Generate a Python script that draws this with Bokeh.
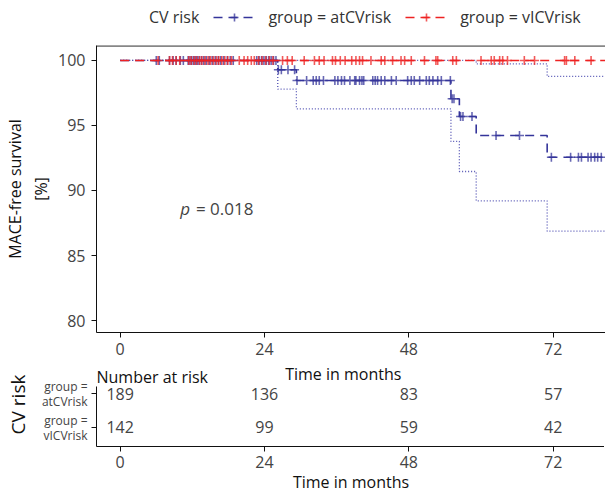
import numpy as np
from bokeh.plotting import figure
from bokeh.models import FixedTicker, Legend, LegendItem, Range1d, Span
from bokeh.layouts import column
from bokeh.core.properties import value
from bokeh.embed import file_html
from bokeh.resources import INLINE

# ---------------- data ----------------
groups = ["group = atCVrisk", "group = vICVrisk"]
legend_title = "CV risk"

# Kaplan-Meier steps, atCVrisk
at_times = [0, 26.2, 29.3, 55.0, 56.4, 59.2, 71.0, 82.0]
at_surv = [100, 99.28, 98.46, 97.05, 95.69, 94.23, 92.56, 92.56]
at_lower = [100, 97.80, 96.28, 93.77, 91.46, 89.20, 86.87, 86.87]
at_upper = [100, 100, 100, 100, 100, 99.74, 98.77, 98.77]

# Kaplan-Meier, vICVrisk (no events)
vi_times = [0, 82.0]
vi_surv = [100, 100]

# censoring times
at_cens = [6.0, 6.5, 8.2, 8.8, 9.3, 10.0, 10.5, 11.3, 11.6, 11.9, 12.2, 12.5, 12.8,
           13.1, 13.5, 13.9, 14.3, 14.8, 15.3, 15.8, 16.3, 16.7, 17.2, 17.8, 18.3,
           18.8, 22.7, 23.1, 23.5, 23.9, 24.3, 24.7, 25.1, 25.5, 25.9,
           26.3, 26.8, 27.9, 29.0,
           29.4, 31.0, 32.1, 32.6, 33.1, 33.8, 35.7, 36.2, 36.8, 37.3, 38.2, 39.0,
           39.2, 39.8, 40.2, 40.5, 42.0, 42.4, 42.8, 43.4, 44.0, 45.1, 45.9, 47.8,
           48.4, 48.9, 49.8, 50.9, 51.4, 52.0, 52.8, 53.4, 54.9,
           55.2, 55.5, 56.6, 57.0, 58.5, 62.5, 66.4,
           71.7, 74.9, 76.2, 76.7, 77.8, 78.3, 78.9, 79.4, 80.0]
vi_cens = [6.3, 8.2, 8.7, 9.3, 9.9, 11.4, 11.8, 12.3, 12.7, 13.2, 13.6, 14.1, 14.6,
           15.0, 15.5, 16.0, 16.4, 16.9, 17.4, 17.9, 18.5, 19.8, 20.6, 21.2, 21.8,
           22.3, 23.0, 23.6, 24.2, 24.8, 25.4, 27.0, 27.8, 28.6, 30.6, 32.3, 33.1,
           33.9, 35.3, 35.8, 36.6, 37.4, 38.5, 39.2, 39.8, 40.3, 41.7, 43.4, 44.0,
           45.3, 46.7, 47.3, 48.4, 50.6, 52.5, 52.8, 55.3, 55.9, 60.0, 61.7, 62.2,
           63.1, 63.6, 64.4, 67.2, 68.9, 73.9, 74.2, 75.6, 78.3]

# number at risk
risk_times = [0, 24, 48, 72]
at_risk = [189, 136, 83, 57]
vi_risk = [142, 99, 59, 42]
risk_rows = [2, 1]
row_label_top = ["group =", "group ="]
row_label_bottom = ["atCVrisk", "vICVrisk"]

x_ticks = [0, 24, 48, 72]
y_ticks = [80, 85, 90, 95, 100]
p_value_text = "= 0.018"

# ---------------- styling ----------------
FONT = "Open Sans"
BLUE = "#34349a"
BLUE_CI = "#4f4fb2"
RED = "#ee2222"
TICK_COL = "#444444"
LAB_COL = "#111111"
W_FRAME = 509
LEFT = 89
UP, DOWN = 0.205, 0.235   # two-line row label offsets (rows)

def surv_at(times, surv, t):
    idx = np.searchsorted(np.array(times), np.array(t), side="right") - 1
    return list(np.array(surv)[idx])

X0, X1 = -3.94, 80.7
xr = Range1d(X0, X1)

def style_axis(ax, label_size="16px"):
    ax.minor_tick_line_color = None
    ax.major_tick_in = 0
    ax.major_tick_out = 5
    ax.major_label_text_font = FONT
    ax.major_label_text_font_size = label_size
    ax.major_label_text_color = TICK_COL
    ax.axis_label_text_font = FONT
    ax.axis_label_text_font_size = "16px"
    ax.axis_label_text_font_style = "normal"
    ax.axis_label_text_color = LAB_COL
    ax.axis_line_color = "#111111"
    ax.major_tick_line_color = "#111111"

def curve_renderers(fig):
    bl = fig.step(at_times, at_surv, mode="after", line_color=BLUE, line_dash="9 6", line_width=1.6)
    bm = fig.scatter(at_cens, surv_at(at_times, at_surv, at_cens), marker="cross", size=9,
                     line_color=BLUE, line_width=1.6, line_alpha=0.75)
    rl = fig.step(vi_times, vi_surv, mode="after", line_color=RED, line_dash="9 6", line_width=1.6)
    rm = fig.scatter(vi_cens, surv_at(vi_times, vi_surv, vi_cens), marker="cross", size=9,
                     line_color=RED, line_width=1.6, line_alpha=0.75)
    return bl, bm, rl, rm

# ---------------- legend strip ----------------
lg = figure(frame_width=598, frame_height=45, x_range=Range1d(0, 1), y_range=Range1d(0, 1),
            output_backend="svg", toolbar_location=None,
            min_border_left=0, min_border_right=0, min_border_top=0, min_border_bottom=0)
lg.outline_line_color = None
lg.axis.visible = False
lg.grid.visible = False
lbl, lbm, lrl, lrm = curve_renderers(lg)
ldummy = lg.line([0, 0], [100, 100], line_alpha=0)
legend = Legend(items=[LegendItem(label=legend_title, renderers=[ldummy]),
                       LegendItem(label=groups[0], renderers=[lbl, lbm]),
                       LegendItem(label=groups[1], renderers=[lrl, lrm])],
                orientation="horizontal", location=(94, 17), padding=0, margin=0,
                spacing=14, glyph_width=42, glyph_height=20, label_height=20,
                label_standoff=13, border_line_color=None, background_fill_alpha=0,
                label_text_font=FONT, label_text_font_size="16px", label_text_color="#333333")
lg.add_layout(legend, "center")

# ---------------- main plot ----------------
p = figure(frame_width=W_FRAME, frame_height=287, x_range=xr, y_range=Range1d(79.08, 101.15),
           output_backend="svg", toolbar_location=None,
           min_border_left=LEFT, min_border_right=0, min_border_top=0, min_border_bottom=30)
p.outline_line_color = None
p.grid.visible = False

p.step(at_times, at_lower, mode="after", line_color=BLUE_CI, line_dash="1 2", line_width=1.3)
p.step(at_times, at_upper, mode="after", line_color=BLUE_CI, line_dash="1 2", line_width=1.3)
curve_renderers(p)
p.add_layout(Span(location=101.12, dimension="width", line_color="#111111", line_width=1.2))

p.xaxis.ticker = FixedTicker(ticks=x_ticks)
p.yaxis.ticker = FixedTicker(ticks=y_ticks)
style_axis(p.xaxis[0])
style_axis(p.yaxis[0])
p.xaxis.major_label_standoff = 5
p.yaxis.axis_label = "MACE-free survival\n[%]"
p.yaxis.major_label_standoff = 6
p.yaxis.axis_label_standoff = 3

p.text(x=[10.0], y=[88.65], text=["p"], text_font=value(FONT), text_font_style="italic",
       text_font_size="17px", text_color=TICK_COL, text_baseline="middle", text_align="left")
p.text(x=[12.6], y=[88.65], text=[p_value_text], text_font=value(FONT),
       text_font_size="17px", text_color=TICK_COL, text_baseline="middle", text_align="left")

# ---------------- risk table (with axis title + table title on top) ----------------
Y0, Y1 = 0.422, 2.215
r = figure(frame_width=W_FRAME, frame_height=84, x_range=xr, y_range=Range1d(Y0, 2.937),
           output_backend="svg", toolbar_location=None,
           min_border_left=LEFT, min_border_right=0, min_border_top=0, min_border_bottom=42)
r.outline_line_color = None
r.grid.visible = False
r.text(x=[37.1], y=[2.578], text=["Time in months"], text_font=value(FONT),
       text_font_size="16px", text_color=LAB_COL, text_align="center", text_baseline="middle")
r.text(x=[X0], y=[2.49], text=["Number at risk"], text_font=value(FONT),
       text_font_size="16px", text_color=LAB_COL, text_align="left", text_baseline="middle")
r.text(x=risk_times, y=[risk_rows[0]] * len(risk_times), text=[str(v) for v in at_risk],
       text_font=value(FONT), text_font_size="16px", text_color=TICK_COL,
       text_align="center", text_baseline="middle")
r.text(x=risk_times, y=[risk_rows[1]] * len(risk_times), text=[str(v) for v in vi_risk],
       text_font=value(FONT), text_font_size="16px", text_color=TICK_COL,
       text_align="center", text_baseline="middle")
r.xaxis.ticker = FixedTicker(ticks=x_ticks)
label_pos = []
label_map = {}
for row, top, bot in zip(risk_rows, row_label_top, row_label_bottom):
    label_pos += [row + UP, row - DOWN]
    label_map[row + UP] = top
    label_map[row - DOWN] = bot
r.yaxis.ticker = FixedTicker(ticks=label_pos, minor_ticks=risk_rows)
r.yaxis.major_label_overrides = label_map
r.yaxis.bounds = (Y0, Y1)
style_axis(r.xaxis[0])
style_axis(r.yaxis[0], label_size="12px")
r.yaxis.major_tick_line_color = None
r.yaxis.minor_tick_line_color = "#111111"
r.yaxis.minor_tick_in = 0
r.yaxis.minor_tick_out = 5
r.xaxis.axis_label = "Time in months"
r.xaxis.major_label_standoff = 4
r.xaxis.axis_label_standoff = 0
r.yaxis.major_label_standoff = 4
r.yaxis.axis_label = "CV risk"
r.yaxis.axis_label_text_font_size = "19px"
r.yaxis.axis_label_standoff = 8

layout = column(lg, p, r, spacing=0)
open("out.html", "w").write(file_html(layout, INLINE))
